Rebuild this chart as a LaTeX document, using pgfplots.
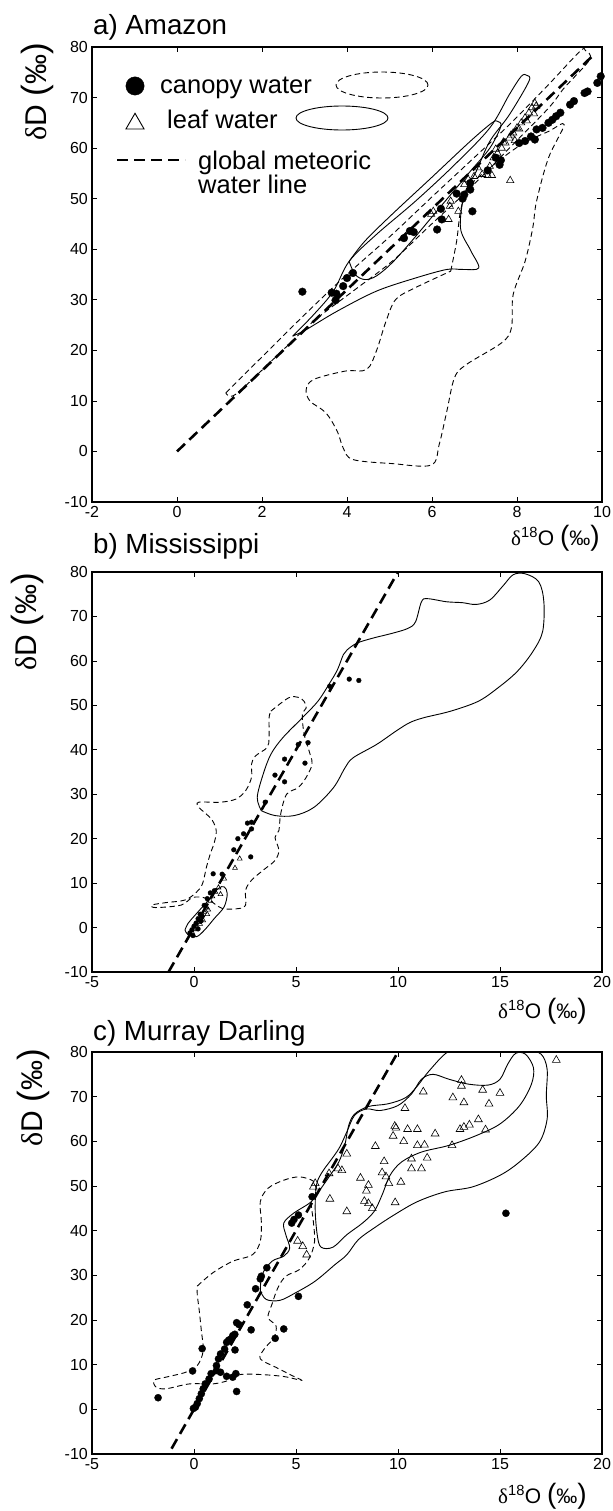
\documentclass[border=0pt]{standalone}
\usepackage{pgfplots}
\pgfplotsset{compat=1.18}
\usepackage{fontspec}
\setmainfont{Liberation Sans}
\newfontfamily\symb{Liberation Serif}
\newcommand\tfont{\fontsize{16bp}{16bp}\selectfont}
\newcommand\lfont{\fontsize{25.5bp}{26bp}\selectfont}
\newcommand\ttlfont{\fontsize{27.7bp}{28bp}\selectfont}
\newcommand\xlab{\fontsize{21bp}{21bp}\selectfont{\symb δ}\textsuperscript{18}O {\fontsize{28bp}{28bp}\selectfont(}‰{\fontsize{28bp}{28bp}\selectfont)}}
\newcommand\ylab{\fontsize{30bp}{30bp}\selectfont{\symb δ}D {\fontsize{35bp}{35bp}\selectfont(}‰{\fontsize{35bp}{35bp}\selectfont)}}
\begin{document}
\begin{tikzpicture}
\useasboundingbox (0bp,0bp) rectangle (613bp,-1511bp);
\pgfplotsset{
  panel/.style={
    scale only axis, width=510bp, anchor=north west,
    tick align=inside, major tick length=5bp,
    major tick style={line width=0.7bp, black},
    ticklabel style={font=\tfont, inner sep=4bp},
    ytick={-10,0,...,80}, yticklabels={-10,0,10,20,30,40,50,60,70,80},
    ymin=-10, ymax=80,
  },
  canopy/.style={only marks, mark=*, mark options={fill=black, draw=black, line width=0.3bp}},
  leaf/.style={only marks, mark=triangle, mark options={draw=black, line width=0.6bp, fill=white}},
  cont/.style={no marks, smooth, tension=0.55, line width=0.9bp, black},
  dcont/.style={cont, dash pattern=on 5.5bp off 3.5bp},
  gmwl/.style={no marks, line width=2.6bp, dash pattern=on 11bp off 6bp, black},
}
% ---------------- a) Amazon ----------------
\begin{axis}[panel, at={(92bp,-47bp)}, height=455bp,
  xmin=-2, xmax=10, xtick={-2,0,...,10}, xticklabels={-2,0,2,4,6,8,10}]
\addplot[dcont] coordinates {(1.15,11.6) (1.94,18.2) (2.85,25.8) (3.87,34.0) (5.06,42.9) (5.98,50.2) (6.90,57.4) (7.82,64.65) (8.74,72.55) (9.48,79.14) (9.61,79.3) (9.71,77.5) (9.11,71.9) (8.74,67.9) (7.82,60.0) (6.90,52.1) (5.98,44.9) (5.06,37.6) (4.14,31.7) (3.22,25.8) (2.30,18.5) (1.38,11.3) (1.15,11.6)};
\addplot[dcont] coordinates {(6.44,35.66) (6.58,41.6) (6.67,47.5) (6.85,52.1) (7.36,56.1) (8.10,60.7) (8.74,63.3) (9.11,64.65) (8.74,58.06) (8.46,49.5) (8.37,44.2) (8.19,37.6) (7.91,31.05) (7.87,24.5) (7.64,21.5) (6.81,17.2) (6.53,14.6) (6.35,8.0) (6.17,1.4) (5.98,-2.7) (5.06,-2.4) (4.14,-1.6) (3.91,0.7) (3.77,4.0) (3.50,7.66) (3.13,9.96) (3.04,12.27) (3.22,14.25) (3.96,15.9) (4.46,16.2) (4.69,19.85) (4.92,25.8) (5.15,30.1) (5.61,32.4) (6.44,35.66)};
\addplot[cont] coordinates {(2.72,22.8) (3.22,27.1) (3.68,31.7) (4.05,37.6) (4.69,42.9) (5.61,49.5) (6.53,56.7) (7.36,64.0) (7.82,70.6) (8.10,74.2) (8.23,74.4) (8.28,73.2) (7.82,66.6) (7.36,61.35) (7.04,55.4) (6.76,50.8) (6.67,44.2) (6.90,39.9) (7.10,36.3) (6.72,36.0) (6.35,36.0) (5.61,34.3) (4.69,31.7) (3.77,27.75) (3.04,24.1) (2.72,22.8)};
\addplot[cont] coordinates {(4.05,37.6) (4.19,35.0) (4.42,34.0) (4.69,34.7) (5.06,37.3) (5.52,41.6) (5.98,46.2) (6.44,50.8) (6.90,55.4) (7.36,60.0) (7.62,64.3) (7.54,65.3) (7.41,65.0) (6.90,61.35) (5.98,54.1) (5.06,46.9) (4.42,41.6) (4.05,37.6)};
\addplot[leaf, mark size=4.2bp] coordinates {(5.98,46.9) (6.03,47.5) (6.39,45.9) (6.42,48.5) (6.44,49.5) (6.62,47.5) (6.76,52.8) (6.85,53.8) (6.99,54.4) (7.18,54.8) (7.31,54.6) (7.41,54.6) (7.36,56.4) (7.08,56.1) (7.45,58.1) (7.54,59.0) (7.64,60.0) (7.73,61.0) (7.82,62.0) (7.91,63.0) (8.00,64.0) (8.10,65.0) (8.19,66.0) (8.28,67.0) (8.35,68.0) (8.42,68.9) (7.50,59.8) (7.68,61.2) (7.86,62.6) (8.05,63.8) (8.23,65.4) (8.40,66.8) (8.45,68.3) (7.95,61.5) (7.84,53.6)};
\addplot[canopy, mark size=3.9bp] coordinates {(2.95,31.6) (3.64,31.4) (3.75,31.2) (3.73,29.9) (3.91,32.7) (4.00,34.3) (4.14,35.3) (5.34,42.2) (5.48,43.6) (5.57,43.4) (6.12,43.9) (6.21,48.0) (6.23,45.9) (6.58,51.0) (6.72,50.0) (6.76,50.8) (6.90,51.8) (6.95,47.5) (6.90,53.1) (7.31,55.6) (7.50,58.1) (7.62,57.6) (7.59,56.7) (8.05,61.0) (8.19,61.4) (8.33,62.3) (8.42,61.7) (8.46,63.7) (8.60,64.0) (8.74,65.0) (8.83,65.6) (8.92,66.3) (9.02,67.0) (9.25,68.6) (9.34,69.3) (9.59,70.9) (9.66,71.2) (9.89,72.9) (9.97,74.2)};
\addplot[gmwl] coordinates {(0,0) (9.85,78.8)};
% legend glyphs
\addplot[only marks, mark=*, mark size=9.2bp, mark options={fill=black, line width=0.3bp}] coordinates {(-0.988,72.29)};
\addplot[only marks, mark=triangle, mark size=10.5bp, mark options={line width=0.9bp, fill=white}] coordinates {(-0.988,64.81)};
\addplot[gmwl] coordinates {(-1.41,57.65) (0.19,57.65)};
\end{axis}
\draw[line width=2.8bp] (92bp,-47bp) rectangle (602bp,-502bp);
\draw[line width=0.9bp, dash pattern=on 5.5bp off 3.5bp] (382bp,-85bp) ellipse [x radius=46bp, y radius=13bp];
\draw[line width=0.9bp] (342bp,-118bp) ellipse [x radius=46bp, y radius=12bp];
\node[anchor=base west, inner sep=0pt, font=\lfont] at (160bp,-93.3bp) {canopy water};
\node[anchor=base west, inner sep=0pt, font=\lfont] at (167bp,-128.3bp) {leaf water};
\node[anchor=base west, inner sep=0pt, font=\lfont] at (198bp,-169.5bp) {global meteoric};
\node[anchor=base west, inner sep=0pt, font=\lfont] at (198bp,-193.3bp) {water line};
\node[anchor=base west, inner sep=0pt, font=\ttlfont] at (93bp,-34.5bp) {a) Amazon};
\node[rotate=90, inner sep=0pt] at (37.5bp,-92bp) {\ylab};
\node[anchor=base east, inner sep=0pt] at (600bp,-545bp) {\xlab};
% ---------------- b) Mississippi ----------------
\begin{axis}[panel, at={(92bp,-572bp)}, height=400bp,
  xmin=-5, xmax=20, xtick={-5,0,...,20}, xticklabels={-5,0,5,10,15,20}]
\addplot[cont] coordinates {(3.30,26.3) (3.10,29.3) (3.39,34.5) (3.77,39.0) (4.35,42.7) (5.31,47.2) (6.07,50.9) (6.65,55.0) (7.03,58.0) (7.32,61.4) (7.51,62.5) (7.99,64.0) (8.75,65.1) (9.71,66.2) (10.48,67.3) (10.86,68.8) (11.15,73.3) (11.44,74.0) (12.39,73.3) (13.16,73.1) (13.83,72.7) (14.50,73.7) (15.17,77.0) (15.65,79.4) (16.23,79.6) (16.90,77.8) (17.15,73.3) (17.09,66.6) (16.61,62.1) (15.84,57.6) (14.89,53.9) (13.93,50.9) (12.59,48.7) (11.25,47.2) (10.57,46.1) (9.90,44.2) (8.95,41.2) (7.80,38.2) (7.41,36.0) (6.84,31.5) (5.88,27.05) (4.92,25.2) (3.97,25.2) (3.30,26.3)};
\addplot[cont] coordinates {(-0.44,-0.54) (-0.29,-1.65) (0.13,-2.03) (0.52,-0.54) (1.00,2.07) (1.48,4.68) (1.63,7.67) (1.48,9.16) (1.19,8.78) (0.71,6.17) (0.13,3.19) (-0.29,0.95) (-0.44,-0.54)};
\addplot[dcont] coordinates {(3.77,48.7) (4.64,51.7) (5.11,51.8) (5.40,50.9) (5.50,49.4) (5.31,47.9) (5.40,43.5) (5.69,39.0) (5.79,36.75) (5.50,33.8) (5.11,31.5) (4.54,30.0) (4.25,25.6) (4.16,21.8) (3.97,20.3) (4.16,17.4) (3.97,15.1) (3.39,12.9) (2.82,10.65) (2.53,8.4) (2.53,5.06) (2.24,4.31) (1.38,4.31) (0.61,6.55) (-0.06,6.77) (-0.63,5.06) (-1.88,4.5) (-2.07,5.06) (-1.40,5.6) (-0.44,6.2) (0.13,8.0) (0.42,9.9) (0.61,13.6) (0.80,16.6) (1.00,19.2) (1.09,21.8) (0.90,24.1) (0.52,25.9) (0.23,27.05) (0.23,28.2) (1.28,28.2) (2.05,28.9) (2.53,30.8) (2.82,33.8) (2.82,36.75) (3.01,38.6) (3.58,40.5) (3.68,42.7) (3.68,47.2) (3.77,48.7)};
\addplot[leaf, mark size=2.8bp] coordinates {(2.24,15.5) (2.01,13.4) (1.48,11.0) (1.2,9.0) (1.05,8.0) (0.9,7.0) (0.8,6.0) (0.6,4.5) (0.5,3.5) (0.4,2.8) (0.3,2.0) (0.2,1.2) (0.1,0.4) (0.0,-0.4) (-0.1,-1.0) (0.65,3.0) (0.3,0.8) (0.45,1.6) (0.7,4.0) (1.3,7.5)};
\addplot[canopy, mark size=2.4bp] coordinates {(6.65,54.3) (7.61,55.9) (8.08,55.6) (5.11,41.2) (5.59,41.6) (4.44,37.9) (3.97,34.3) (4.44,32.8) (5.44,37.0) (3.49,28.2) (2.82,23.7) (2.62,23.5) (2.82,22.2) (2.15,20.0) (2.43,21.1) (1.95,17.5) (2.78,15.9) (0.94,12.1) (1.38,12.0) (0.80,7.8) (1.0,8.3) (0.65,6.5) (0.5,5.0) (0.3,3.0) (0.2,2.0) (0.4,2.5) (0.1,1.0) (0.0,0.3) (-0.1,-0.5) (-0.2,-1.2) (0.2,-0.3) (0.35,1.5) (-0.05,-1.8)};
\addplot[gmwl] coordinates {(-1.25,-10) (10,80)};
\end{axis}
\draw[line width=2.8bp] (92bp,-572bp) rectangle (602bp,-972bp);
\node[anchor=base west, inner sep=0pt, font=\ttlfont] at (93bp,-553.5bp) {b) Mississippi};
\node[rotate=90, inner sep=0pt] at (27bp,-622bp) {\ylab};
\node[anchor=base east, inner sep=0pt] at (587bp,-1018bp) {\xlab};
% ---------------- c) Murray Darling ----------------
\begin{axis}[panel, at={(92bp,-1052bp)}, height=402bp,
  xmin=-5, xmax=20, xtick={-5,0,...,20}, xticklabels={-5,0,5,10,15,20}]
\addplot[cont] coordinates {(3.25,26.5) (3.34,30.2) (3.82,33.15) (4.40,34.3) (4.69,36.1) (4.50,39.1) (4.40,41.7) (4.88,43.9) (5.75,46.5) (6.23,49.5) (6.62,52.05) (7.10,55.4) (7.39,59.1) (7.58,63.5) (7.87,66.1) (8.55,67.8) (9.51,68.4) (10.38,69.8) (10.95,72.4) (11.53,75.8) (12.50,80.2) (13.65,81.3) (15.58,80.6) (16.35,80.4) (17.02,79.5) (17.31,76.15) (17.27,70.2) (17.31,65.0) (16.93,59.8) (15.96,55.4) (15.00,52.4) (13.65,49.8) (12.30,48.7) (10.95,46.5) (9.80,43.5) (8.83,40.6) (8.06,38.0) (7.49,34.6) (6.91,32.4) (5.94,28.7) (4.98,26.1) (4.21,24.4) (3.54,24.6) (3.25,26.5)};
\addplot[cont] coordinates {(6.52,54.65) (6.04,50.9) (5.94,45.0) (6.04,39.1) (6.23,36.3) (6.81,36.3) (7.49,39.1) (8.26,41.7) (8.83,44.3) (9.22,48.0) (9.61,52.4) (10.18,55.4) (11.15,57.6) (12.50,59.1) (13.84,61.3) (15.00,63.9) (15.96,68.0) (16.54,72.8) (16.64,76.5) (16.25,79.5) (15.77,79.7) (15.38,77.3) (15.00,73.9) (14.42,72.6) (13.46,72.8) (12.50,73.9) (11.72,75.0) (11.15,73.9) (10.66,70.6) (9.99,68.0) (9.12,66.9) (8.45,67.25) (7.87,65.8) (7.49,62.1) (7.10,58.35) (6.52,54.65)};
\addplot[dcont] coordinates {(0.16,27.6) (0.93,30.6) (1.90,33.15) (2.86,34.6) (3.25,37.6) (3.30,42.05) (3.25,46.5) (3.63,49.5) (4.40,51.3) (5.17,52.05) (5.85,51.1) (5.98,49.5) (5.75,46.5) (5.85,42.05) (5.91,37.6) (5.66,33.9) (5.17,31.3) (4.50,29.8) (4.11,27.2) (3.82,23.5) (3.63,20.55) (4.02,18.7) (3.92,16.1) (3.44,13.5) (3.25,11.3) (4.02,9.4) (4.79,7.6) (5.27,6.5) (4.40,7.35) (3.25,7.8) (2.28,7.8) (1.71,6.5) (0.93,5.7) (-0.22,5.7) (-1.38,4.6) (-1.86,5.0) (-1.96,6.5) (-1.38,7.2) (-0.41,8.3) (0.16,9.8) (0.45,13.1) (0.36,17.6) (0.26,22.0) (0.16,25.7) (0.16,27.6)};
\addplot[leaf, mark size=4.5bp] coordinates {(17.76,78.2) (13.11,73.7) (13.11,72.4) (11.24,71.1) (10.34,67.4) (12.69,69.8) (13.23,68.7) (14.15,71.5) (15.0,70.8) (14.46,68.4) (13.94,64.9) (14.29,62.6) (13.50,63.7) (13.23,63.2) (13.04,62.7) (9.84,63.4) (9.9,63.0) (9.76,61.2) (10.47,62.7) (10.95,62.7) (11.82,61.7) (10.28,60.0) (8.89,58.9) (10.95,59.1) (11.30,59.2) (12.65,59.1) (9.32,55.5) (9.22,53.0) (10.66,56.1) (11.43,56.3) (10.66,53.9) (11.15,53.9) (9.41,52.1) (9.55,50.6) (10.14,50.9) (8.16,51.8) (8.55,50.2) (8.45,48.9) (8.35,46.6) (8.55,46.1) (8.74,45.0) (9.86,46.3) (7.49,44.3) (6.66,47.1) (7.49,57.2) (7.06,53.9) (7.25,53.5) (6.62,52.8) (5.94,50.6) (5.85,49.8) (5.08,37.7) (5.33,36.5) (5.52,34.6)};
\addplot[canopy, mark size=3.6bp] coordinates {(15.29,43.9) (-1.76,2.6) (-0.07,8.6) (0.40,13.6) (2.09,4.0) (2.05,8.0) (2.01,13.3) (2.80,17.8) (3.98,15.9) (4.40,18.0) (5.12,25.3) (4.79,41.7) (5.12,43.5) (5.79,47.6) (3.57,31.7) (3.30,29.8) (3.25,29.2) (3.02,27.0) (2.61,23.4) (2.09,19.4) (2.0,16.8) (1.8,15.7) (1.6,15.0) (1.5,13.5) (1.3,12.4) (1.2,11.3) (1.1,9.8) (1.1,8.7) (1.3,8.3) (1.6,7.4) (1.9,7.2) (0.84,8.0) (0.74,6.8) (0.55,5.7) (0.45,4.6) (0.36,3.5) (0.26,2.4) (0.16,1.3) (0.07,0.5) (-0.03,0.2) (1.9,16.5) (1.7,15.5) (2.2,19.0) (4.9,42.5)};
\addplot[gmwl] coordinates {(-1.1,-8.8) (10,80)};
\end{axis}
\draw[line width=2.8bp] (92bp,-1052bp) rectangle (602bp,-1454bp);
\node[anchor=base west, inner sep=0pt, font=\ttlfont] at (93bp,-1040bp) {c) Murray Darling};
\node[rotate=90, inner sep=0pt] at (33bp,-1098bp) {\ylab};
\node[anchor=base east, inner sep=0pt] at (587bp,-1503bp) {\xlab};
\end{tikzpicture}
\end{document}
